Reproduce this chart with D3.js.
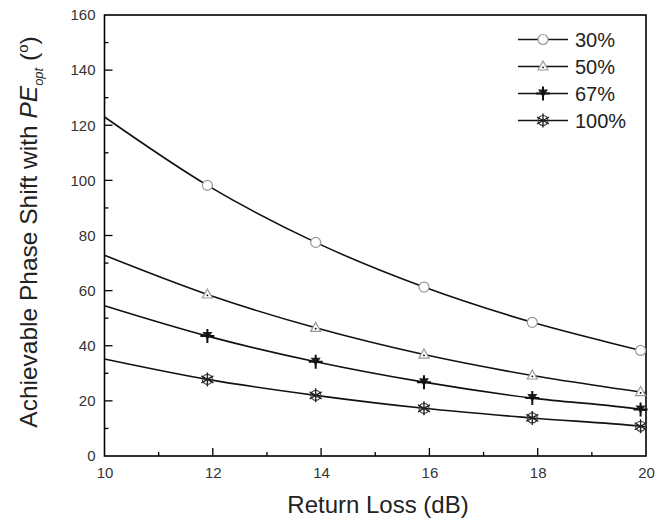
<!DOCTYPE html>
<html>
<head>
<meta charset="utf-8">
<script src="https://cdn.jsdelivr.net/npm/d3@7"></script>
<style>
  body { margin: 0; background: #fff; }
  svg { font-family: "Liberation Sans", Arial, sans-serif; }
</style>
</head>
<body>
<svg id="chart" width="656" height="525"></svg>
<script>
// Return loss (dB) at the curve start and at each marker
const curveX = [10, 11.9, 13.9, 15.9, 17.9, 19.9, 20];
const markerX = [11.9, 13.9, 15.9, 17.9, 19.9];

// Achievable phase shift (deg) for each PE setting
const seriesNames = ["30%", "50%", "67%", "100%"];
const shift30 = [123, 98.2, 77.5, 61.3, 48.5, 38.3, 37.8];
const shift50 = [72.8, 58.6, 46.5, 36.8, 29.2, 23.2, 22.9];
const shift67 = [54.5, 43.5, 34.2, 26.8, 21, 16.9, 16.6];
const shift100 = [35.2, 27.8, 22, 17.3, 13.8, 10.8, 10.6];
const seriesValues = [shift30, shift50, shift67, shift100];
const markerKinds = ["circle", "triangle", "plusTri", "starCircle"];

const xTicks = [10, 12, 14, 16, 18, 20];
const yTicks = [0, 20, 40, 60, 80, 100, 120, 140, 160];

const svg = d3.select("#chart");
const L = 104.5, R = 646, T = 15, B = 456;

const x = d3.scaleLinear().domain([10, 20]).range([L, R]);
const y = d3.scaleLinear().domain([0, 160]).range([B, T]);

// Frame
svg.append("rect").attr("x", L).attr("y", T).attr("width", R - L).attr("height", B - T)
  .attr("fill", "none").attr("stroke", "#000").attr("stroke-width", 1.6);

// Inward ticks: major + minor
const tickG = svg.append("g").attr("stroke", "#000").attr("stroke-width", 1.3);
d3.range(11, 20).forEach(v => {
  const major = v % 2 === 0;
  tickG.append("line").attr("x1", x(v)).attr("x2", x(v)).attr("y1", B).attr("y2", B - (major ? 8 : 4));
});
d3.range(10, 160, 10).forEach(v => {
  const major = v % 20 === 0;
  tickG.append("line").attr("y1", y(v)).attr("y2", y(v)).attr("x1", L).attr("x2", L + (major ? 8 : 4));
});

// Tick labels
const xAxis = d3.axisBottom(x).tickValues(xTicks).tickSize(0).tickPadding(11);
svg.append("g").attr("transform", `translate(0,${B})`).call(xAxis)
  .call(g => g.select(".domain").remove())
  .selectAll("text").attr("font-size", 15).attr("fill", "#333")
  .attr("font-family", "Liberation Sans, Arial, sans-serif");
const yAxis = d3.axisLeft(y).tickValues(yTicks).tickSize(0).tickPadding(9);
svg.append("g").attr("transform", `translate(${L},0)`).call(yAxis)
  .call(g => g.select(".domain").remove())
  .selectAll("text").attr("font-size", 15).attr("fill", "#333")
  .attr("font-family", "Liberation Sans, Arial, sans-serif");

// Axis titles
svg.append("text").attr("x", 378).attr("y", 513).attr("text-anchor", "middle")
  .attr("font-size", 24).attr("fill", "#222").text("Return Loss (dB)");

const yt = svg.append("text").attr("transform", `translate(37,232) rotate(-90)`)
  .attr("text-anchor", "middle").attr("font-size", 24.5).attr("fill", "#222");
yt.append("tspan").text("Achievable Phase Shift with ");
yt.append("tspan").attr("font-style", "italic").text("PE");
yt.append("tspan").attr("font-style", "italic").attr("font-size", 13).attr("dy", 6).text("opt");
yt.append("tspan").attr("dy", -6).text(" (");
yt.append("tspan").attr("font-size", 15).attr("dy", -9).text("o");
yt.append("tspan").attr("dy", 9).text(")");

// Curves
const line = d3.line().x(d => x(d[0])).y(d => y(d[1])).curve(d3.curveMonotoneX);
seriesValues.forEach(vals => {
  svg.append("path").attr("d", line(curveX.map((cx, i) => [cx, vals[i]])))
    .attr("fill", "none").attr("stroke", "#111").attr("stroke-width", 1.6);
});

// Marker drawing
function drawMarker(g, kind, cx, cy) {
  const m = g.append("g").attr("transform", `translate(${cx},${cy})`);
  if (kind === "circle") {
    m.append("circle").attr("r", 5).attr("fill", "#fff").attr("stroke", "#999").attr("stroke-width", 1.2);
  } else if (kind === "triangle") {
    m.append("path").attr("d", "M0,-5.5L5,3.5L-5,3.5Z").attr("fill", "#fff").attr("stroke", "#999").attr("stroke-width", 1.2);
    m.append("circle").attr("r", 0.9).attr("cy", 0.8).attr("fill", "#000");
  } else if (kind === "plusTri") {
    m.append("path").attr("d", "M-5,-4L5,-4L0,4Z").attr("fill", "#222");
    m.append("path").attr("d", "M0,-7V7M-7,0H7").attr("stroke", "#111").attr("stroke-width", 2);
  } else {
    m.append("circle").attr("r", 5).attr("fill", "none").attr("stroke", "#444").attr("stroke-width", 1.2);
    m.append("path").attr("d", "M0,-7V7M-6,-3.5L6,3.5M-6,3.5L6,-3.5")
      .attr("stroke", "#222").attr("stroke-width", 1.4);
  }
}

seriesValues.forEach((vals, s) => {
  const g = svg.append("g");
  markerX.forEach((mx, i) => drawMarker(g, markerKinds[s], x(mx), y(vals[i + 1])));
});

// Legend
const leg = svg.append("g");
seriesNames.forEach((name, i) => {
  const ly = 39.5 + i * 27;
  leg.append("line").attr("x1", 518).attr("x2", 568).attr("y1", ly).attr("y2", ly)
    .attr("stroke", "#111").attr("stroke-width", 1.6);
  drawMarker(leg, markerKinds[i], 543, ly);
  leg.append("text").attr("x", 575).attr("y", ly + 7.5).attr("font-size", 20).attr("fill", "#222").text(name);
});
</script>
</body>
</html>
